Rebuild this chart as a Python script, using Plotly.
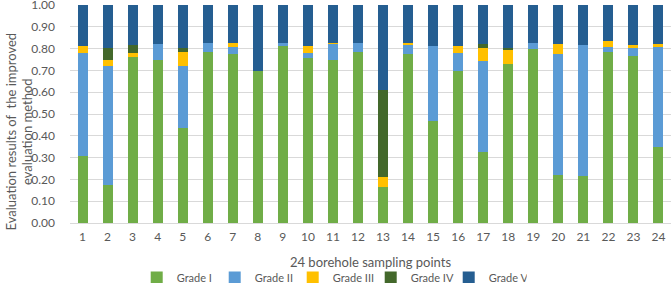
import plotly.graph_objects as go

points = [str(i) for i in range(1, 25)]
grade_i = [0.308, 0.175, 0.762, 0.750, 0.436, 0.787, 0.776, 0.697, 0.812, 0.758, 0.750, 0.784,
           0.163, 0.777, 0.470, 0.697, 0.328, 0.732, 0.797, 0.220, 0.216, 0.784, 0.768, 0.348]
grade_ii = [0.472, 0.545, 0.000, 0.073, 0.285, 0.040, 0.030, 0.000, 0.015, 0.022, 0.072, 0.040,
            0.000, 0.039, 0.343, 0.082, 0.414, 0.000, 0.031, 0.557, 0.601, 0.025, 0.035, 0.458]
grade_iii = [0.031, 0.030, 0.018, 0.000, 0.063, 0.000, 0.019, 0.000, 0.000, 0.032, 0.006, 0.000,
             0.046, 0.010, 0.000, 0.032, 0.063, 0.062, 0.000, 0.043, 0.000, 0.026, 0.014, 0.016]
grade_iv = [0.000, 0.055, 0.039, 0.000, 0.019, 0.000, 0.000, 0.000, 0.000, 0.000, 0.000, 0.000,
            0.401, 0.000, 0.000, 0.000, 0.015, 0.009, 0.000, 0.000, 0.000, 0.000, 0.000, 0.000]
grade_v = [0.189, 0.195, 0.181, 0.177, 0.197, 0.173, 0.175, 0.303, 0.173, 0.188, 0.172, 0.176,
           0.390, 0.174, 0.187, 0.189, 0.180, 0.197, 0.172, 0.180, 0.183, 0.165, 0.183, 0.178]
y_ticks = [i / 10 for i in range(11)]
y_tick_labels = ["%.2f" % v for v in y_ticks]

series = [
    ("Grade I", grade_i, "#70AD47"),
    ("Grade II", grade_ii, "#5B9BD5"),
    ("Grade III", grade_iii, "#FFC000"),
    ("Grade IV", grade_iv, "#43682B"),
    ("Grade V", grade_v, "#255E91"),
]

FONT = "Lato"
GREY = "#595959"

fig = go.Figure()
for name, vals, col in series:
    fig.add_trace(go.Bar(x=points, y=vals, name=name, marker=dict(color=col, line=dict(width=0))))

fig.update_layout(
    barmode="stack",
    bargap=0.6,
    width=671, height=283,
    margin=dict(l=70, r=0, t=5, b=60, autoexpand=False),
    paper_bgcolor="white", plot_bgcolor="white",
    font=dict(family=FONT, size=12, color=GREY),
    showlegend=True,
    legend=dict(orientation="h", x=0.111, xanchor="left", y=-0.25, yanchor="middle",
                font=dict(size=11, color=GREY), itemwidth=30, traceorder="normal",
                entrywidth=33, entrywidthmode="pixels",
                bgcolor="rgba(0,0,0,0)"),
    xaxis=dict(showgrid=False, showline=True, linecolor="#D9D9D9", linewidth=1,
               ticks="", tickfont=dict(size=12, color=GREY), automargin=False,
               ticklabelstandoff=3,
               title=dict(text="24 borehole sampling points", font=dict(size=13, color=GREY), standoff=14)),
    yaxis=dict(range=[0, 1.0005], tickvals=y_ticks, ticktext=y_tick_labels,
               showgrid=True, gridcolor="#D9D9D9", gridwidth=1, zeroline=False, automargin=False,
               ticks="", tickfont=dict(size=12, color=GREY), ticklabelstandoff=14,
               ticklabeloverflow="allow"),
)

fig.add_annotation(
    text="Evaluation results of  the improved<br>evaluation method",
    xref="paper", yref="paper", x=0, y=0.42, xshift=-51, xanchor="center", yanchor="middle",
    textangle=-90, showarrow=False, font=dict(size=13, color=GREY), align="center",
)

fig.write_html("out.html", config={"displayModeBar": False},
               post_script="document.body.style.margin='0';")
